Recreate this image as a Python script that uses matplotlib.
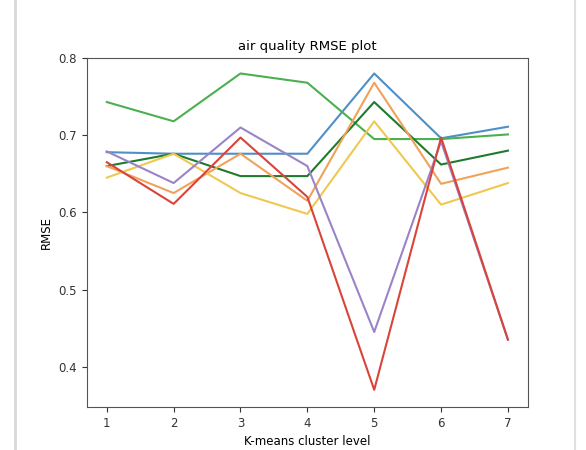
import numpy as np
import matplotlib
matplotlib.use("Agg")
import matplotlib.pyplot as plt
from matplotlib.lines import Line2D

# уровни кластеризации
levels = [1, 2, 3, 4, 5, 6, 7]

# значения RMSE для каждой серии
rmse_blue = [0.678, 0.676, 0.676, 0.676, 0.780, 0.696, 0.711]
rmse_lgreen = [0.743, 0.718, 0.780, 0.768, 0.695, 0.695, 0.701]
rmse_dgreen = [0.660, 0.676, 0.647, 0.647, 0.743, 0.662, 0.680]
rmse_orange = [0.660, 0.625, 0.676, 0.615, 0.768, 0.637, 0.658]
rmse_gold = [0.645, 0.676, 0.625, 0.598, 0.718, 0.610, 0.638]
rmse_purple = [0.679, 0.638, 0.710, 0.660, 0.445, 0.692, 0.435]
rmse_red = [0.665, 0.611, 0.697, 0.620, 0.370, 0.697, 0.435]

series = [rmse_blue, rmse_lgreen, rmse_dgreen, rmse_orange, rmse_gold, rmse_purple, rmse_red]
colors = ["#4f8fc8", "#4caf50", "#1f7a2e", "#f0a25a", "#f0c850", "#9b83c8", "#d9443a"]

fig = plt.figure(figsize=(5.86, 4.5), dpi=100)
ax = fig.add_axes([0.148, 0.096, 0.753, 0.775])

for y, c in zip(series, colors):
  ax.plot(levels, y, c=c, linewidth=1.5)

ax.set_ylim(0.348, 0.8)
ax.set_xlim(0.7, 7.3)
ax.set_yticks([0.4, 0.5, 0.6, 0.7, 0.8])
ax.set_xticks(levels)
ax.tick_params(labelsize=8.5, colors="#333333")
for s in ax.spines.values():
  s.set_color("#555555")
ax.set_title("air quality RMSE plot", fontsize=9.5)
ax.set_xlabel("K-means cluster level", fontsize=8.5)
ax.set_ylabel("RMSE", fontsize=8.5)

# рамки скриншота
fig.add_artist(Line2D([0.026, 0.026], [0, 1], color="#d8d8d8", linewidth=2))
fig.add_artist(Line2D([0.982, 0.982], [0, 1], color="#e0e0e0", linewidth=1.5))

fig.savefig("out.png", dpi=100)
